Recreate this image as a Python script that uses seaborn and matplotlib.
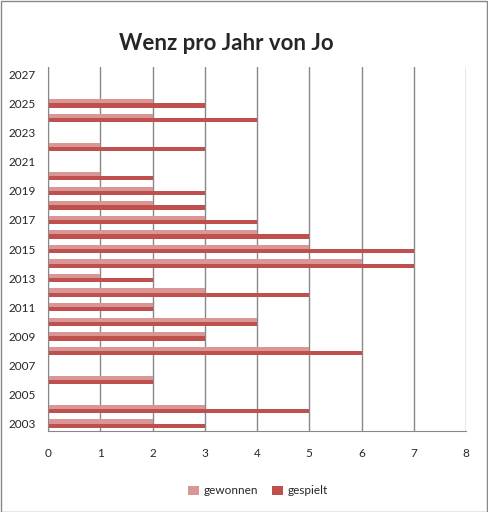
import pandas as pd
import matplotlib.pyplot as plt
from matplotlib.patches import Rectangle
import seaborn as sns

# values, 0 = no bar
years = list(range(2003, 2028))
gewonnen = [2, 3, 0, 2, 0, 5, 3, 4, 2, 3, 1, 6, 5, 4, 3, 2, 2, 1, 0, 1, 0, 2, 2, 0, 0]
gespielt = [3, 5, 0, 2, 0, 6, 3, 4, 2, 5, 2, 7, 7, 5, 4, 3, 3, 2, 0, 3, 0, 4, 3, 0, 0]

df = pd.DataFrame({'Jahr': [str(y) for y in years], 'gewonnen': gewonnen, 'gespielt': gespielt})
df = df.melt(id_vars='Jahr', var_name='Serie', value_name='Anzahl')

sns.set_style('white')
plt.rcParams['font.family'] = ['Lato', 'DejaVu Sans']

fig = plt.figure(figsize=(4.88, 5.12), dpi=100)
ax = fig.add_axes([48/488, 1-431/512, (466-48)/488, (431-67)/512])

order = [str(y) for y in years][::-1]  # 2027 at the top
sns.barplot(data=df, y='Jahr', x='Anzahl', hue='Serie', order=order,
            hue_order=['gewonnen', 'gespielt'],
            palette={'gewonnen': '#D99694', 'gespielt': '#C0504D'},
            orient='h', width=0.58, ax=ax, legend=True, saturation=1,
            linewidth=0)

ax.set_xlim(0, 8)
ax.set_ylim(len(years) - 0.5, -0.5)
ax.set_xticks(range(0, 9))
ax.tick_params(axis='x', labelsize=8.5, length=4, color='#888888', direction='out', pad=8)
ax.xaxis.grid(True, color='#888888', linewidth=1)
ax.set_axisbelow(True)

# major ticks at category borders, labels on every second year
ax.set_yticks([i - 0.5 for i in range(len(years) + 1)])
ax.set_yticklabels([])
ax.tick_params(axis='y', which='major', length=4, color='#888888', direction='out')
lab_years = [y for y in years if (y - 2003) % 2 == 0]
ax.set_yticks([order.index(str(y)) for y in lab_years], minor=True)
ax.set_yticklabels([str(y) for y in lab_years], minor=True)
ax.tick_params(axis='y', which='minor', length=0, labelsize=8.5, pad=9)

for s in ['top', 'right']:
    ax.spines[s].set_visible(False)
for s in ['left', 'bottom']:
    ax.spines[s].set_color('#888888')
ax.set_xlabel('')
ax.set_ylabel('')

handles, labels = ax.get_legend_handles_labels()
ax.legend_.remove()
fig.legend(handles, labels, loc='center', bbox_to_anchor=(258/488, 1-491/512), ncol=2,
           frameon=False, fontsize=8.5, handlelength=0.9, handleheight=0.9,
           columnspacing=1.2, handletextpad=0.4)

fig.text(226/488, 1-43/512, 'Wenz pro Jahr von Jo', ha='center', va='center',
         fontsize=16, fontweight='bold')

# thin frame round the whole chart
fig.add_artist(Rectangle((0.5/488, 0.5/512), 486.5/488, 510.5/512, transform=fig.transFigure,
                         fill=False, edgecolor='#888888', linewidth=1))

fig.savefig('out.png', dpi=100)
